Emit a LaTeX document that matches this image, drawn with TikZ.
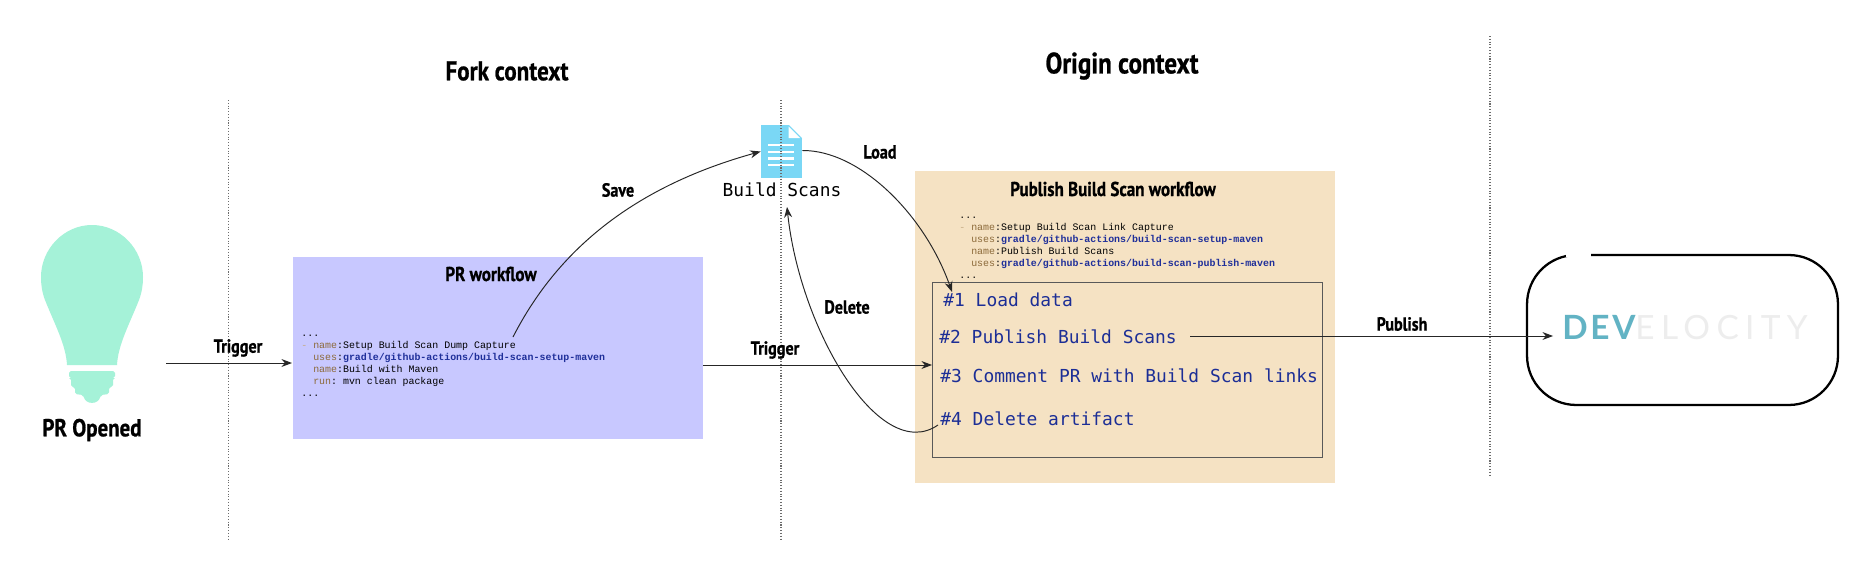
\documentclass[tikz,border=0pt]{standalone}
\usepackage{fontspec}
\usetikzlibrary{arrows.meta}
\newfontfamily\handfont[FakeStretch=0.85,FakeBold=0.8]{PT Sans Bold}
\newfontfamily\stepfont{DejaVu Sans Mono}
\newfontfamily\logofont{Lato}
\setmonofont{Liberation Mono}
\definecolor{prfill}{HTML}{C8C8FF}
\definecolor{pubfill}{HTML}{F5E2C3}
\definecolor{bulbfill}{HTML}{A5F2D8}
\definecolor{iconfill}{HTML}{7AD7F5}
\definecolor{codekey}{HTML}{8C6A3A}
\definecolor{codeuse}{HTML}{1F2F9A}
\definecolor{stepblue}{HTML}{1C2E96}
\definecolor{logoteal}{HTML}{62B3C4}
\newcommand{\ckey}[1]{\textcolor{codekey}{#1}}
\newcommand{\cuse}[1]{\textcolor{codeuse}{\textbf{#1}}}
\newcommand{\cdash}{\textcolor{codekey!45!pubfill}{-}}
\tikzset{
  handtitle/.style={font=\handfont\fontsize{15.4}{17}\selectfont, inner sep=0pt},
  boxtitle/.style={font=\handfont\fontsize{11.4}{13}\selectfont, inner sep=0pt},
  edgelabel/.style={font=\handfont\fontsize{10.8}{12}\selectfont, inner sep=0pt},
  codeblock/.style={font=\ttfamily\fontsize{5.65}{6.8}\selectfont, align=left, anchor=north west, inner sep=0pt},
  stepline/.style={font=\stepfont\fontsize{10.2}{12}\selectfont, text=stepblue, anchor=west, inner sep=0pt},
  guide/.style={densely dotted, gray!85!black, line width=0.6pt},
  flow/.style={->, line width=0.55pt, black!85}
}
\begin{document}
\begin{tikzpicture}[x=0.02cm, y=-0.02cm, >={Stealth[length=6pt,width=4.5pt]}]
  \useasboundingbox (0,0) rectangle (1876,578);
  \fill[white] (0,0) rectangle (1876,578);
  % workflow boxes
  \node[fill=prfill, minimum width=8.2cm, minimum height=3.64cm, inner sep=0pt] (prworkflow) at (498,348) {};
  \node[fill=pubfill, minimum width=8.4cm, minimum height=6.24cm, inner sep=0pt] (pubworkflow) at (1125,327) {};
  \node[draw=black!65, line width=0.5pt, minimum width=7.8cm, minimum height=3.5cm, inner sep=0pt] (stepbox) at (1127,369.5) {};
  \node[draw=black, line width=1.3pt, rounded corners=28pt, minimum width=6.22cm, minimum height=3cm, inner sep=0pt] (velocitybox) at (1682.5,330) {};
  \draw[white, line width=2.5pt] (1566,255) -- (1591,255);
  % light bulb
  \fill[bulbfill] (67,365) .. controls (66,345) and (55,325) .. (45,300) .. controls (42,292) and (41,285) .. (41,277)
    .. controls (41,249) and (64,225) .. (92,225) .. controls (120,225) and (143,249) .. (143,277)
    .. controls (143,285) and (142,292) .. (139,300) .. controls (129,325) and (118,345) .. (117,365) -- cycle;
  \fill[bulbfill, rounded corners=1pt] (69,371) -- (115,371) -- (115,378) -- (113,378) -- (113,387) -- (109,387) -- (109,394)
    -- (101,395) .. controls (98,405) and (86,405) .. (83,395) -- (75,394) -- (75,387) -- (71,387) -- (71,378) -- (69,378) -- cycle;
  \node[font=\handfont\fontsize{14}{16}\selectfont, inner sep=0pt] (propened) at (92,430) {PR Opened};
  % build scans file
  \node[fill=iconfill, minimum width=0.82cm, minimum height=1.06cm, inner sep=0pt] (scanfile) at (781.5,151.5) {};
  \fill[white] (788,124) -- (803,124) -- (803,139) -- cycle;
  \fill[iconfill] (788,125) -- (788,139) -- (802,139) -- (788,125);
  \fill[white] (788.5,126.5) -- (800,138) -- (788.5,138) -- cycle;
  \draw[white, line width=1.5pt] (768,145) -- (794,145) (768,152) -- (794,152) (768,158.5) -- (794,158.5) (768,165) -- (794,165);
  \node[font=\stepfont\fontsize{10.2}{12}\selectfont, inner sep=0pt] (scanlabel) at (782,190) {Build Scans};
  % context titles and separators
  \node[handtitle] (forkcontext) at (507,71) {Fork context};
  \node[handtitle, font=\handfont\fontsize{16.8}{18}\selectfont] (origincontext) at (1122,66) {Origin context};
  \draw[guide] (228.5,100) -- (228.5,540);
  \draw[guide] (781,100) -- (781,540);
  \draw[guide] (1490,36) -- (1490,476);
  \node[boxtitle] (prtitle) at (491,274) {PR workflow};
  \node[boxtitle] (pubtitle) at (1113,189) {Publish Build Scan workflow};
  % yaml snippets
  \node[codeblock] (prcode) at (301,335) {...\\
    \cdash\ \ckey{name}:Setup Build Scan Dump Capture\\
    \ \ \ckey{uses}:\cuse{gradle/github-actions/build-scan-setup-maven}\\
    \ \ \ckey{name}:Build with Maven\\
    \ \ \ckey{run}: mvn clean package\\
    ...};
  \node[codeblock] (pubcode) at (959,217) {...\\
    \cdash\ \ckey{name}:Setup Build Scan Link Capture\\
    \ \ \ckey{uses}:\cuse{gradle/github-actions/build-scan-setup-maven}\\
    \ \ \ckey{name}:Publish Build Scans\\
    \ \ \ckey{uses}:\cuse{gradle/github-actions/build-scan-publish-maven}\\
    ...};
  % steps
  \node[stepline] (stepone) at (943,300) {\#1 Load data};
  \node[stepline] (steptwo) at (939,337) {\#2 Publish Build Scans};
  \node[stepline] (stepthree) at (940,376) {\#3 Comment PR with Build Scan links};
  \node[stepline] (stepfour) at (940,419) {\#4 Delete artifact};
  \node[font=\logofont\fontsize{19}{21}\selectfont, anchor=west, inner sep=0pt] (velocitylogo) at (1562,328)
    {\textcolor{logoteal}{\addfontfeature{LetterSpace=8}\bfseries DEV}\textcolor{black!7}{\addfontfeature{LetterSpace=19}ELOCITY}};
  % connector ends
  \coordinate (bulbout) at (166,363);
  \coordinate (prin) at (292,363);
  \coordinate (prout) at (703,365);
  \coordinate (stepin) at (932,365);
  \coordinate (savefrom) at (513,337);
  \coordinate (loadto) at (952,292);
  \coordinate (publishfrom) at (1190,336);
  \coordinate (publishto) at (1553,336);
  \coordinate (deletefrom) at (938,425);
  \coordinate (deleteto) at (787,207);
  % connectors
  \draw[flow] (bulbout) -- (prin);
  \draw[flow] (prout) -- (stepin);
  \draw[flow] (publishfrom) -- (publishto);
  \draw[flow] (savefrom) .. controls (560,245) and (640,185) .. (scanfile.west);
  \draw[flow] (scanfile.east) ++(0,-1) .. controls (860,150) and (925,215) .. (loadto);
  \draw[flow] (deletefrom) .. controls (880,465) and (800,330) .. (deleteto);
  \node[edgelabel] (triggerone) at (238,348) {Trigger};
  \node[edgelabel] (triggertwo) at (775,350) {Trigger};
  \node[edgelabel] (savelabel) at (618,190) {Save};
  \node[edgelabel] (loadlabel) at (880,152) {Load};
  \node[edgelabel] (deletelabel) at (847,307) {Delete};
  \node[edgelabel] (publishlabel) at (1402,324) {Publish};
\end{tikzpicture}
\end{document}
